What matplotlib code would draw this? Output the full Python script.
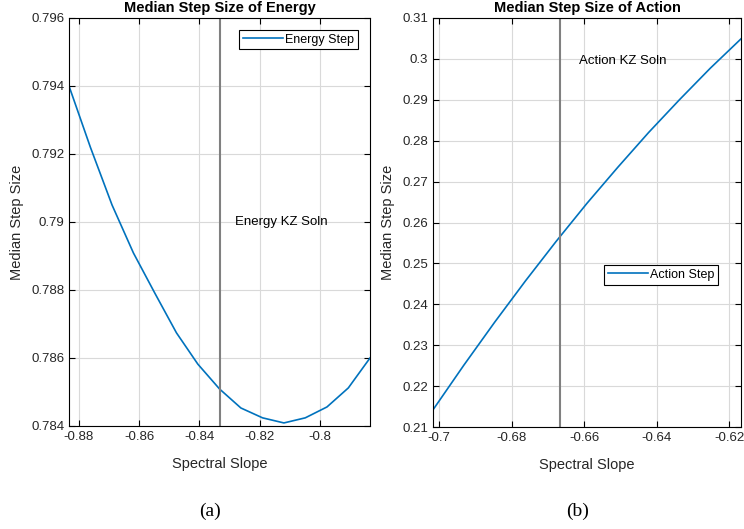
import matplotlib.pyplot as plt

# Energy panel data
energy_slope = [-0.8833, -0.8762, -0.8690, -0.8619, -0.8548, -0.8476, -0.8405, -0.8333,
                -0.8262, -0.8190, -0.8119, -0.8048, -0.7976, -0.7905, -0.7833]
energy_step = [0.7940, 0.7922, 0.7905, 0.78909, 0.78791, 0.78674, 0.78582, 0.78509,
               0.78453, 0.78424, 0.78409, 0.78424, 0.78456, 0.78512, 0.78600]
energy_kz = -0.8333

# Action panel data
action_slope = [-0.7017, -0.6932, -0.6847, -0.6762, -0.6677, -0.6592, -0.6507, -0.6422,
                -0.6337, -0.6252, -0.6167]
action_step = [0.2142, 0.2251, 0.2356, 0.2457, 0.2554, 0.2647, 0.2735, 0.2820,
               0.2900, 0.2977, 0.3049]
action_kz = -0.6667

plt.rcParams['font.family'] = ['Liberation Sans', 'DejaVu Sans']
blue = '#0072BD'
grey_txt = '#262626'

fig = plt.figure(figsize=(7.44, 5.29), dpi=100)
W, H = 744, 529
ax1 = fig.add_axes([69 / W, 1 - 426 / H, (370 - 69) / W, (426 - 18) / H])
ax2 = fig.add_axes([433 / W, 1 - 427 / H, (741 - 433) / W, (427 - 18) / H])


def style(ax):
    ax.grid(True, color='#d9d9d9', linewidth=0.8)
    ax.set_axisbelow(True)
    ax.tick_params(direction='in', top=True, right=True, labelsize=9.5,
                   colors='black', labelcolor=grey_txt, length=4)
    for s in ax.spines.values():
        s.set_color('black')
        s.set_linewidth(0.8)


# (a) energy
ax1.plot(energy_slope, energy_step, color=blue, linewidth=1.2, label='Energy Step')
ax1.axvline(energy_kz, color='#808080', linewidth=1.5)
ax1.set_xlim(energy_slope[0], energy_slope[-1])
ax1.set_ylim(0.784, 0.796)
ax1.set_xticks([-0.88, -0.86, -0.84, -0.82, -0.8])
ax1.set_xticklabels(['-0.88', '-0.86', '-0.84', '-0.82', '-0.8'])
ax1.set_yticks([0.784, 0.786, 0.788, 0.79, 0.792, 0.794, 0.796])
ax1.set_yticklabels(['0.784', '0.786', '0.788', '0.79', '0.792', '0.794', '0.796'])
ax1.text(-0.8283, 0.790, 'Energy KZ Soln', fontsize=9.5, va='center')
ax1.set_title('Median Step Size of Energy', fontsize=10.5, fontweight='bold', pad=4)
ax1.set_xlabel('Spectral Slope', fontsize=10.5, color=grey_txt, labelpad=10)
ax1.set_ylabel('Median Step Size', fontsize=10.5, color=grey_txt, labelpad=5)
style(ax1)
leg1 = ax1.legend(loc='upper right', fontsize=9, fancybox=False, framealpha=1,
                  edgecolor='black', borderpad=0.3, handlelength=3.2,
                  handletextpad=0.2, borderaxespad=0.95)
leg1.get_frame().set_linewidth(0.8)

# (b) action
ax2.plot(action_slope, action_step, color=blue, linewidth=1.2, label='Action Step')
ax2.axvline(action_kz, color='#808080', linewidth=1.5)
ax2.set_xlim(action_slope[0], action_slope[-1])
ax2.set_ylim(0.21, 0.31)
ax2.set_xticks([-0.7, -0.68, -0.66, -0.64, -0.62])
ax2.set_xticklabels(['-0.7', '-0.68', '-0.66', '-0.64', '-0.62'])
ax2.set_yticks([0.21, 0.22, 0.23, 0.24, 0.25, 0.26, 0.27, 0.28, 0.29, 0.3, 0.31])
ax2.set_yticklabels(['0.21', '0.22', '0.23', '0.24', '0.25', '0.26', '0.27',
                     '0.28', '0.29', '0.3', '0.31'])
ax2.text(-0.6613, 0.2995, 'Action KZ Soln', fontsize=9.5, va='center')
ax2.set_title('Median Step Size of Action', fontsize=10.5, fontweight='bold', pad=4)
ax2.set_xlabel('Spectral Slope', fontsize=10.5, color=grey_txt, labelpad=10)
ax2.set_ylabel('Median Step Size', fontsize=10.5, color=grey_txt, labelpad=5)
style(ax2)
leg2 = ax2.legend(loc='center left', bbox_to_anchor=(0.555, 0.372), fontsize=9,
                  fancybox=False, framealpha=1, edgecolor='black', borderpad=0.3,
                  handlelength=3.2, handletextpad=0.2, borderaxespad=0)
leg2.get_frame().set_linewidth(0.8)

# captions
fig.text(210 / W, 1 - 511 / H, '(a)', fontsize=14, family='Liberation Serif',
         ha='center', va='center')
fig.text(578 / W, 1 - 511 / H, '(b)', fontsize=14, family='Liberation Serif',
         ha='center', va='center')

fig.savefig('out.png', dpi=100)
